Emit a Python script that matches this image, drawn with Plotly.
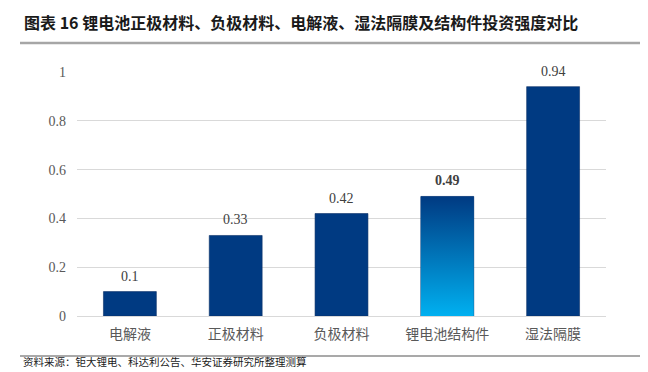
import plotly.graph_objects as go

categories = ["电解液", "正极材料", "负极材料", "锂电池结构件", "湿法隔膜"]
values = [0.1, 0.33, 0.42, 0.49, 0.94]
highlight_index = 3
y_ticks = [0, 0.2, 0.4, 0.6, 0.8, 1]
y_tick_labels = ["0", "0.2", "0.4", "0.6", "0.8", "1"]

title_text = "图表 16 锂电池正极材料、负极材料、电解液、湿法隔膜及结构件投资强度对比"
source_text = "资料来源：钜大锂电、科达利公告、华安证券研究所整理测算"

DARK = "#003A82"
LIGHT = "#00B0F0"
OFF = 8  # page body margin
W, H = 648 - OFF, 372 - OFF
ML, MR, MT, MB = 77 - OFF, 42, 72 - OFF, 56
PW, PH = W - ML - MR, H - MT - MB


def px_x(x):
    return (x - OFF - ML) / PW


def px_y(y):
    return (H - MB - (y - OFF)) / PH


xs = list(range(len(categories)))
bar_w = 0.5

fig = go.Figure()
fig.add_trace(go.Bar(
    x=xs, y=values, width=bar_w,
    marker=dict(color=DARK, line=dict(width=0.6, color="#0A2F66")),
    hoverinfo="skip",
))

# gradient overlay for the highlighted bar, derived from its value
hx = xs[highlight_index]
hv = values[highlight_index]
fig.add_trace(go.Scatter(
    x=[hx - bar_w / 2, hx + bar_w / 2, hx + bar_w / 2, hx - bar_w / 2, hx - bar_w / 2],
    y=[0, 0, hv, hv, 0],
    mode="lines", line=dict(width=0), fill="toself",
    fillgradient=dict(type="vertical", colorscale=[[0, LIGHT], [1, DARK]]),
    hoverinfo="skip", showlegend=False,
))

for i, v in enumerate(values):
    t = "%g" % v
    if i == highlight_index:
        t = "<b>" + t + "</b>"
    fig.add_annotation(
        x=xs[i], y=v, xref="x", yref="y", showarrow=False,
        yanchor="bottom", yshift=6, text=t,
        font=dict(family="Liberation Serif", size=14, color="#404040"),
    )

fig.update_layout(
    width=W, height=H,
    margin=dict(l=ML, r=MR, t=MT, b=MB),
    paper_bgcolor="white", plot_bgcolor="white",
    showlegend=False,
    xaxis=dict(
        range=[-0.5, len(categories) - 0.5],
        tickvals=xs, ticktext=categories,
        showgrid=False, zeroline=False, showline=False,
        ticks="", ticklen=0, ticklabelstandoff=8,
        tickfont=dict(family="Noto Sans CJK SC", size=14, color="#595959"),
    ),
    yaxis=dict(
        range=[0, 1], tickvals=y_ticks, ticktext=y_tick_labels,
        showgrid=True, gridcolor="#D9D9D9", gridwidth=1,
        zeroline=True, zerolinecolor="#D9D9D9", zerolinewidth=1,
        showline=False, ticks="", ticklabelstandoff=10,
        tickfont=dict(family="Liberation Serif", size=14, color="#595959"),
    ),
    font=dict(family="Noto Sans CJK SC"),
)

fig.add_annotation(
    x=px_x(22), y=px_y(22), xref="paper", yref="paper",
    xanchor="left", yanchor="middle", showarrow=False,
    text="<b>" + title_text + "</b>",
    font=dict(family="Noto Sans CJK SC", size=16, color="#1A1A1A"),
)
fig.add_annotation(
    x=px_x(22), y=px_y(370), xref="paper", yref="paper",
    xanchor="left", yanchor="bottom", showarrow=False,
    text=source_text, borderpad=0,
    font=dict(family="Noto Sans CJK SC", size=10.5, color="#1A1A1A"),
)
fig.add_shape(type="line", xref="paper", yref="paper",
              x0=px_x(20), x1=px_x(648), y0=px_y(356), y1=px_y(356),
              line=dict(color="#8C8C8C", width=1.5))
fig.add_shape(type="line", xref="paper", yref="paper",
              x0=px_x(20), x1=px_x(648), y0=px_y(43), y1=px_y(43),
              line=dict(color="#A6A6A6", width=2.5))

fig.write_html("out.html")
